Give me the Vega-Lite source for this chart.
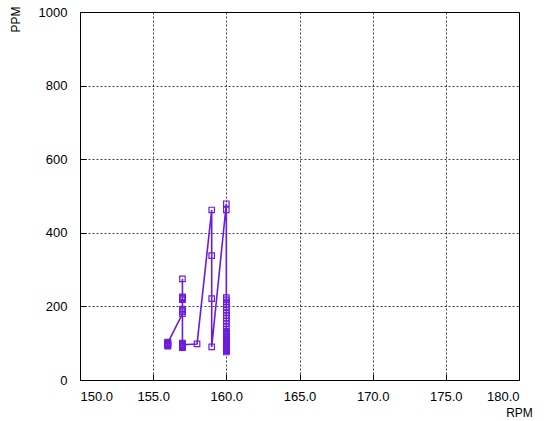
{
  "$schema": "https://vega.github.io/schema/vega-lite/v6.json",
  "width": 439,
  "height": 368,
  "autosize": {"type": "none"},
  "padding": {"left": 80, "top": 12, "right": 25, "bottom": 41},
  "background": "white",
  "config": {
    "view": {"stroke": "#000", "strokeWidth": 1},
    "font": "Liberation Sans",
    "axis": {
      "domain": false,
      "grid": true,
      "gridColor": "#000",
      "gridDash": [2, 2],
      "gridOpacity": 0.75,
      "gridWidth": 1,
      "ticks": true,
      "tickColor": "#000",
      "tickSize": -6,
      "labelFont": "Liberation Sans",
      "labelFontSize": 13,
      "labelColor": "#000",
      "titleFont": "Liberation Sans",
      "titleFontSize": 12,
      "titleFontWeight": "normal",
      "titleColor": "#000"
    }
  },
  "data": {
    "values": [
      {"i": 1, "RPM": 156, "PPM": 103},
      {"i": 2, "RPM": 156, "PPM": 100},
      {"i": 3, "RPM": 156, "PPM": 97},
      {"i": 4, "RPM": 156, "PPM": 94},
      {"i": 5, "RPM": 156, "PPM": 92},
      {"i": 6, "RPM": 156, "PPM": 95},
      {"i": 7, "RPM": 156, "PPM": 98},
      {"i": 8, "RPM": 156, "PPM": 101},
      {"i": 9, "RPM": 157, "PPM": 180},
      {"i": 10, "RPM": 157, "PPM": 186},
      {"i": 11, "RPM": 157, "PPM": 193},
      {"i": 12, "RPM": 157, "PPM": 218},
      {"i": 13, "RPM": 157, "PPM": 223},
      {"i": 14, "RPM": 157, "PPM": 226},
      {"i": 15, "RPM": 157, "PPM": 275},
      {"i": 16, "RPM": 157, "PPM": 221},
      {"i": 17, "RPM": 157, "PPM": 190},
      {"i": 18, "RPM": 157, "PPM": 100},
      {"i": 19, "RPM": 157, "PPM": 97},
      {"i": 20, "RPM": 157, "PPM": 94},
      {"i": 21, "RPM": 157, "PPM": 91},
      {"i": 22, "RPM": 157, "PPM": 88},
      {"i": 23, "RPM": 157, "PPM": 90},
      {"i": 24, "RPM": 157, "PPM": 93},
      {"i": 25, "RPM": 157, "PPM": 96},
      {"i": 26, "RPM": 158, "PPM": 98},
      {"i": 27, "RPM": 159, "PPM": 462},
      {"i": 28, "RPM": 159, "PPM": 338},
      {"i": 29, "RPM": 159, "PPM": 221},
      {"i": 30, "RPM": 159, "PPM": 90},
      {"i": 31, "RPM": 160, "PPM": 479},
      {"i": 32, "RPM": 160, "PPM": 462},
      {"i": 33, "RPM": 160, "PPM": 224},
      {"i": 34, "RPM": 160, "PPM": 218},
      {"i": 35, "RPM": 160, "PPM": 212},
      {"i": 36, "RPM": 160, "PPM": 205},
      {"i": 37, "RPM": 160, "PPM": 198},
      {"i": 38, "RPM": 160, "PPM": 190},
      {"i": 39, "RPM": 160, "PPM": 182},
      {"i": 40, "RPM": 160, "PPM": 175},
      {"i": 41, "RPM": 160, "PPM": 168},
      {"i": 42, "RPM": 160, "PPM": 160},
      {"i": 43, "RPM": 160, "PPM": 153},
      {"i": 44, "RPM": 160, "PPM": 146},
      {"i": 45, "RPM": 160, "PPM": 133},
      {"i": 46, "RPM": 160, "PPM": 130},
      {"i": 47, "RPM": 160, "PPM": 127},
      {"i": 48, "RPM": 160, "PPM": 124},
      {"i": 49, "RPM": 160, "PPM": 121},
      {"i": 50, "RPM": 160, "PPM": 118},
      {"i": 51, "RPM": 160, "PPM": 115},
      {"i": 52, "RPM": 160, "PPM": 112},
      {"i": 53, "RPM": 160, "PPM": 109},
      {"i": 54, "RPM": 160, "PPM": 106},
      {"i": 55, "RPM": 160, "PPM": 103},
      {"i": 56, "RPM": 160, "PPM": 100},
      {"i": 57, "RPM": 160, "PPM": 97},
      {"i": 58, "RPM": 160, "PPM": 94},
      {"i": 59, "RPM": 160, "PPM": 91},
      {"i": 60, "RPM": 160, "PPM": 88},
      {"i": 61, "RPM": 160, "PPM": 85},
      {"i": 62, "RPM": 160, "PPM": 82},
      {"i": 63, "RPM": 160, "PPM": 79},
      {"i": 64, "RPM": 160, "PPM": 76},
      {"i": 65, "RPM": 160, "PPM": 80},
      {"i": 66, "RPM": 160, "PPM": 86},
      {"i": 67, "RPM": 160, "PPM": 92},
      {"i": 68, "RPM": 160, "PPM": 98},
      {"i": 69, "RPM": 160, "PPM": 104},
      {"i": 70, "RPM": 160, "PPM": 110}
    ]
  },
  "mark": {
    "type": "line",
    "color": "#6c1cdc",
    "strokeWidth": 1.6,
    "clip": true,
    "point": {"shape": "square", "filled": false, "size": 30, "strokeWidth": 1.2, "color": "#6c1cdc"}
  },
  "encoding": {
    "order": {"field": "i", "type": "quantitative"},
    "x": {
      "field": "RPM",
      "type": "quantitative",
      "scale": {"domain": [150, 180], "nice": false, "zero": false},
      "axis": {
        "values": [150, 155, 160, 165, 170, 175, 180],
        "format": ".1f",
        "labelPadding": 16,
        "title": "RPM",
        "titleAlign": "center",
        "titleBaseline": "alphabetic",
        "titleX": 439,
        "titleY": 36
      }
    },
    "y": {
      "field": "PPM",
      "type": "quantitative",
      "scale": {"domain": [0, 1000], "nice": false},
      "axis": {
        "values": [0, 200, 400, 600, 800, 1000],
        "format": "d",
        "labelPadding": 19,
        "title": "PPM",
        "titleAngle": -90,
        "titleAlign": "center",
        "titleBaseline": "bottom",
        "titleX": -58,
        "titleY": 7
      }
    }
  }
}
